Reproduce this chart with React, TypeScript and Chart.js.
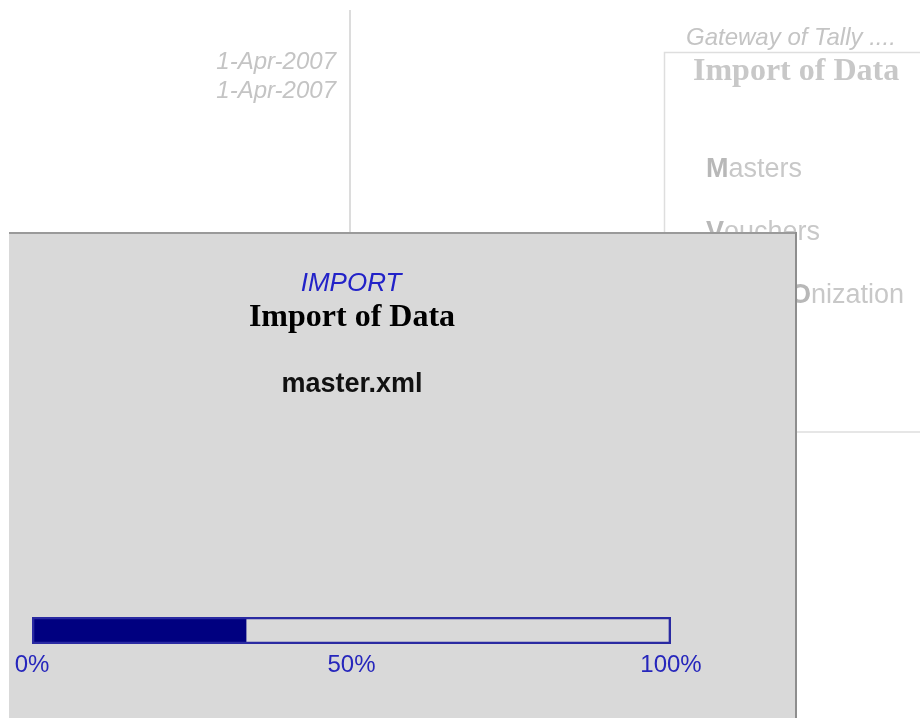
import React, { useEffect, useRef } from "react";
import { Chart, registerables } from "chart.js";

Chart.register(...registerables);

const categories = ["master.xml"];
const progressValues = [33.5];
const trackValues = [100];
const tickValues = [0, 50, 100];
const tickLabels = ["0%", "50%", "100%"];

const dialogTitle = "IMPORT";
const dialogHeading = "Import of Data";
const fileName = "master.xml";
const dateLines = ["1-Apr-2007", "1-Apr-2007"];
const gatewayText = "Gateway of Tally ....";
const panelTitle = "Import of Data";
const menuItems = [
  { hot: "M", before: "", after: "asters" },
  { hot: "V", before: "", after: "ouchers" },
  { hot: "O", before: "Synchr", after: "nization" },
];

const SANS = "'Liberation Sans', Arial, sans-serif";
const SERIF = "'Liberation Serif', 'Times New Roman', serif";

const backdrop = {
  id: "backdrop",
  beforeDraw(chart: any) {
    const ctx = chart.ctx as CanvasRenderingContext2D;
    ctx.save();
    ctx.fillStyle = "#ffffff";
    ctx.fillRect(0, 0, chart.width, chart.height);

    // faint background screen
    ctx.strokeStyle = "#dcdcdc";
    ctx.lineWidth = 2;
    ctx.beginPath();
    ctx.moveTo(350, 10);
    ctx.lineTo(350, 232);
    ctx.stroke();

    ctx.fillStyle = "#c4c4c4";
    ctx.font = `italic 24px ${SANS}`;
    ctx.textAlign = "right";
    ctx.textBaseline = "alphabetic";
    ctx.fillText(dateLines[0], 336, 69);
    ctx.fillText(dateLines[1], 336, 98);

    ctx.textAlign = "left";
    ctx.fillText(gatewayText, 686, 45);

    ctx.strokeStyle = "#dedede";
    ctx.lineWidth = 1.5;
    ctx.beginPath();
    ctx.moveTo(664.5, 432);
    ctx.lineTo(664.5, 52.5);
    ctx.lineTo(920, 52.5);
    ctx.moveTo(664, 432);
    ctx.lineTo(920, 432);
    ctx.stroke();

    ctx.fillStyle = "#c8c8c8";
    ctx.font = `bold 32px ${SERIF}`;
    ctx.fillText(panelTitle, 693, 80);

    const baselines = [177, 240, 303];
    menuItems.forEach((m, i) => {
      let x = 706;
      const y = baselines[i];
      ctx.font = `27px ${SANS}`;
      ctx.fillStyle = "#c8c8c8";
      ctx.fillText(m.before, x, y);
      x += ctx.measureText(m.before).width;
      ctx.font = `bold 27px ${SANS}`;
      ctx.fillStyle = "#b8b8b8";
      ctx.fillText(m.hot, x, y);
      x += ctx.measureText(m.hot).width;
      ctx.font = `27px ${SANS}`;
      ctx.fillStyle = "#c8c8c8";
      ctx.fillText(m.after, x, y);
    });

    // dialog
    ctx.fillStyle = "#d9d9d9";
    ctx.fillRect(9, 232, 788, 486);
    ctx.fillStyle = "#9a9a9a";
    ctx.fillRect(9, 232, 788, 2);
    ctx.fillStyle = "#8e8e8e";
    ctx.fillRect(795, 232, 2, 486);

    ctx.textAlign = "center";
    ctx.fillStyle = "#2222c8";
    ctx.font = `italic 26px ${SANS}`;
    ctx.fillText(dialogTitle, 351, 291);

    ctx.fillStyle = "#000000";
    ctx.font = `bold 32px ${SERIF}`;
    ctx.fillText(dialogHeading, 352, 326);

    ctx.fillStyle = "#111111";
    ctx.font = `bold 27px ${SANS}`;
    ctx.fillText(fileName, 352, 392);

    ctx.restore();
  },
};

export default function App() {
  const ref = useRef<HTMLCanvasElement | null>(null);

  useEffect(() => {
    if (!ref.current) return;
    const chart = new Chart(ref.current, {
      type: "bar",
      data: {
        labels: categories,
        datasets: [
          {
            label: "Track",
            data: trackValues,
            backgroundColor: "rgba(0,0,0,0)",
            borderColor: "#2a2aa2",
            borderWidth: 2,
            borderSkipped: false,
            grouped: false,
            barPercentage: 1,
            categoryPercentage: 1,
            order: 0,
          },
          {
            label: "Imported",
            data: progressValues,
            backgroundColor: "#000080",
            borderWidth: 0,
            grouped: false,
            barPercentage: 1,
            categoryPercentage: 1,
            order: 1,
          },
        ],
      },
      options: {
        indexAxis: "y",
        animation: false,
        responsive: false,
        layout: { padding: { left: 32, right: 249, top: 617, bottom: 34 } },
        plugins: {
          legend: { display: false },
          tooltip: { enabled: false },
          title: { display: false },
        },
        scales: {
          y: { display: false },
          x: {
            min: 0,
            max: 100,
            grid: { display: false, drawTicks: false },
            border: { display: false },
            afterBuildTicks: (scale: any) => {
              scale.ticks = tickValues.map((v) => ({ value: v }));
            },
            afterFit: (scale: any) => {
              scale.height = 40;
            },
            ticks: {
              padding: 7,
              color: "#2626bc",
              font: { family: SANS, size: 24 },
              maxRotation: 0,
              autoSkip: false,
              callback: (v: any) => tickLabels[tickValues.indexOf(Number(v))] ?? "",
            },
          },
        },
      },
      plugins: [backdrop],
    });
    return () => chart.destroy();
  }, []);

  return (
    <div style={{ position: "absolute", left: 0, top: 0, width: 920, height: 718 }}>
      <canvas ref={ref} width={920} height={718} style={{ display: "block" }} />
    </div>
  );
}
